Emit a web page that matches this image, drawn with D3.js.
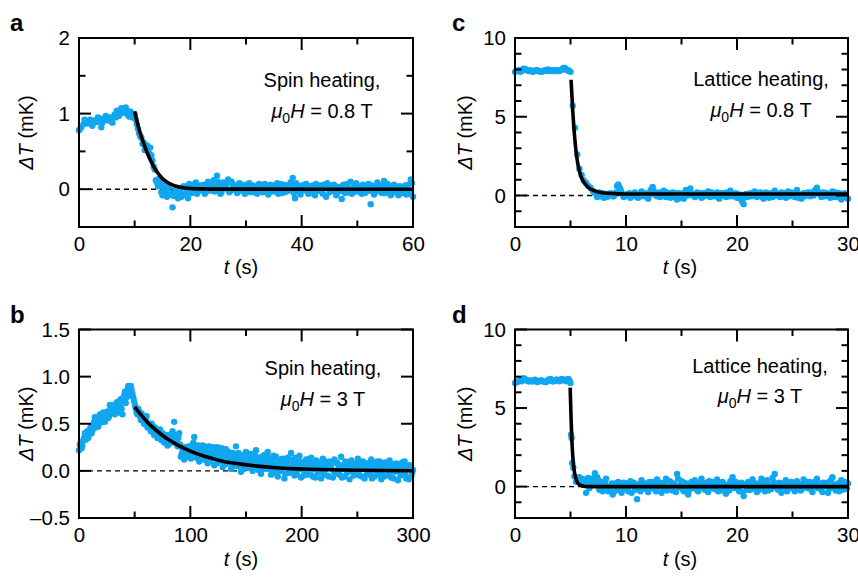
<!DOCTYPE html>
<html><head><meta charset="utf-8">
<script src="https://cdn.jsdelivr.net/npm/d3@7"></script>
<style>
body{margin:0;background:#fff}
svg{display:block}
text{font-family:"Liberation Sans",Arial,Helvetica,sans-serif;fill:#000}
</style>
</head><body>
<svg id="chart" width="858" height="577"></svg>
<script>
// ---------------- DATA ----------------
// Panel a: spin heating, 0.8 T  [t (s), dT (mK)]
const aData = [[0,0.78],[0.2,0.8],[0.4,0.82],[0.8,0.86],[1,0.92],[1.2,0.9],[1.6,0.87],[1.8,0.9],[2,0.92],[2.4,0.84],[2.6,0.88],[2.8,0.91],[3.2,0.89],[3.4,0.95],[3.6,0.94],[4,0.82],[4.2,0.88],[4.4,0.93],[4.8,0.97],[5,0.93],[5.2,0.91],[5.6,0.95],[5.8,0.9],[6,0.88],[6.4,0.99],[6.6,0.95],[6.8,1.04],[7.2,0.97],[7.4,1.0],[7.6,1.07],[8,1.01],[8.2,1.05],[8.4,1.08],[8.8,0.98],[9,0.96],[9.2,1.03],[9.6,0.95],[9.8,1.0],[10,0.99],[10.4,0.86],[10.8,0.74],[11.2,0.68],[11.6,0.62],[12,0.57],[12.4,0.5],[12.8,0.55],[13.2,0.38],[13.6,0.26],[14,0.09],[14.4,0.14],[14.8,-0.04],[15.2,0.05],[15.6,-0.06],[16,0.02],[16.4,-0.07],[16.8,-0.24],[17.2,-0.03],[17.6,-0.08],[18,0.01],[18.4,-0.1],[18.8,0.04],[19.2,-0.05],[19.6,-0.12],[20,0.05],[20.4,-0.02],[20.8,0.07],[21.2,-0.06],[21.6,0.03],[22,-0.01],[22.4,0.06],[22.8,-0.04],[23.2,0.1],[23.6,0.02],[24,0.08],[24.4,-0.03],[24.8,0.18],[25.2,0.05],[25.6,-0.04],[26,0.09],[26.4,0.01],[26.8,0.13],[27.2,-0.02],[27.6,0.06],[28,0.03],[28.4,-0.05],[28.8,0.08],[29.2,0.02],[29.6,-0.03],[30,0.06],[30.4,0],[30.8,-0.04],[31.2,0.05],[31.6,0.02],[32,-0.06],[32.4,0.07],[32.8,0.01],[33.2,-0.02],[33.6,0.04],[34,-0.07],[34.4,0.06],[34.8,0.03],[35.2,-0.03],[35.6,0.08],[36,0],[36.4,-0.05],[36.8,0.06],[37.2,0.02],[37.6,-0.02],[38,0.09],[38.4,0.15],[38.8,-0.12],[39.2,0.03],[39.6,-0.04],[40,0.05],[40.4,-0.01],[40.8,0.07],[41.2,-0.06],[41.6,0.02],[42,0.05],[42.4,-0.08],[42.8,0.04],[43.2,0],[43.6,-0.03],[44,0.06],[44.4,-0.1],[44.8,0.03],[45.2,0.05],[45.6,-0.02],[46,0.04],[46.4,-0.05],[46.8,0.01],[47.2,-0.13],[47.6,0.06],[48,0.02],[48.4,-0.04],[48.8,0.1],[49.2,0],[49.6,-0.03],[50,0.05],[50.4,0.03],[50.8,-0.06],[51.2,0.04],[51.6,-0.02],[52,0.07],[52.4,-0.2],[52.8,0.02],[53.2,-0.04],[53.6,0.09],[54,0.01],[54.4,-0.05],[54.8,0.11],[55.2,-0.02],[55.6,0.03],[56,-0.08],[56.4,0.05],[56.8,0],[57.2,-0.06],[57.6,0.04],[58,-0.03],[58.4,0.02],[58.8,-0.07],[59.2,0.06],[59.6,0.13],[60,-0.1]];
const aData2 = [[10.2,0.92],[10.6,0.8],[11,0.7],[11.4,0.6],[11.8,0.52],[12.2,0.58],[12.6,0.47],[13,0.45],[13.4,0.3],[13.8,0.12],[14.2,0.04],[14.6,0.08],[15,-0.08],[15.4,0],[15.8,-0.1],[16.2,0.04],[16.6,-0.05],[17,-0.09],[17.4,0.02],[17.8,-0.12],[18.2,-0.04],[18.6,-0.08],[19,0.03],[19.4,-0.02],[19.8,0.07],[20.2,-0.05],[20.6,0.02],[21,0.09],[21.4,-0.03],[21.8,0.05],[22.2,0],[22.6,-0.06],[23,0.04],[23.4,0.07],[23.8,-0.02],[24.2,0.12],[24.6,0.03],[25,0.1],[25.4,-0.06],[25.8,0.05],[26.2,0.02],[26.6,0.08],[27,-0.04],[27.4,0.1],[27.8,0],[28.2,0.05],[28.6,-0.03],[29,0.07],[29.4,0.02],[29.8,-0.06],[30.2,0.04],[30.6,0.08],[31,-0.02],[31.4,0.03],[31.8,-0.05],[32.2,0.06],[32.6,0.02],[33,-0.04],[33.4,0.07],[33.8,0],[34.2,0.04],[34.6,-0.03],[35,0.05],[35.4,0.01],[35.8,-0.06],[36.2,0.07],[36.6,0.03],[37,-0.04],[37.4,0.05],[37.8,0],[38.2,0.06],[38.6,-0.05],[39,0.08],[39.4,0.01],[39.8,-0.07],[40.2,0.03],[40.6,0.06],[41,-0.03],[41.4,0.04],[41.8,-0.05],[42.2,0.01],[42.6,0.07],[43,-0.02],[43.4,0.05],[43.8,-0.06],[44.2,0.02],[44.6,0.08],[45,-0.04],[45.4,0],[45.8,0.06],[46.2,-0.08],[46.6,0.03],[47,-0.02],[47.4,0.05],[47.8,-0.05],[48.2,0.07],[48.6,0],[49,-0.06],[49.4,0.04],[49.8,0.08],[50.2,-0.03],[50.6,0.01],[51,0.06],[51.4,-0.05],[51.8,0.03],[52.2,-0.02],[52.6,0.05],[53,-0.07],[53.4,0.02],[53.8,0.06],[54.2,-0.03],[54.6,0.04],[55,-0.05],[55.4,0.07],[55.8,0],[56.2,-0.04],[56.6,0.06],[57,0.02],[57.4,-0.08],[57.8,0.03],[58.2,-0.05],[58.6,0.05],[59,-0.02],[59.4,-0.06],[59.8,0.08]];
const aFit = [[10,1.03],[10.5,0.87],[11,0.74],[11.5,0.63],[12,0.53],[12.5,0.44],[13,0.36],[13.5,0.29],[14,0.23],[15,0.14],[16,0.085],[17,0.05],[18,0.03],[19,0.017],[20,0.01],[22,0.004],[25,0.001],[60,0]];

// Panel b: spin heating, 3 T
const bData = [[0,0.22],[1.5,0.3],[3,0.27],[4.5,0.35],[6,0.33],[7.5,0.42],[9,0.38],[10.5,0.47],[12,0.43],[13.5,0.52],[15,0.46],[16.5,0.55],[18,0.5],[19.5,0.58],[21,0.52],[22.5,0.6],[24,0.55],[25.5,0.63],[27,0.58],[28.5,0.68],[30,0.62],[31.5,0.7],[33,0.65],[34.5,0.73],[36,0.62],[37.5,0.76],[39,0.6],[40.5,0.8],[42,0.72],[43.5,0.86],[45,0.8],[46.5,0.9],[48,0.82],[49.5,0.74],[51,0.66],[52.5,0.6],[54,0.63],[55.5,0.54],[57,0.58],[58.5,0.5],[60,0.55],[61.5,0.46],[63,0.5],[64.5,0.42],[66,0.47],[67.5,0.38],[69,0.44],[70.5,0.35],[72,0.41],[73.5,0.33],[75,0.4],[76.5,0.3],[78,0.36],[79.5,0.27],[81,0.38],[82.5,0.3],[84,0.42],[85.5,0.52],[87,0.34],[88.5,0.26],[90,0.4],[91.5,0.15],[93,0.22],[94.5,0.12],[96,0.25],[97.5,0.16],[99,0.2],[100.5,0.13],[102,0.28],[103.5,0.36],[105,0.18],[106.5,0.24],[108,0.1],[109.5,0.2],[111,0.27],[112.5,0.12],[114,0.21],[115.5,0.08],[117,0.26],[118.5,0.15],[120,0.22],[121.5,0.06],[123,0.18],[124.5,0.25],[126,0.1],[127.5,0.2],[129,0.04],[130.5,0.16],[132,0.23],[133.5,0.08],[135,0.14],[136.5,0.02],[138,0.19],[139.5,0.1],[141,0.26],[142.5,0.05],[144,0.13],[145.5,-0.01],[147,0.17],[148.5,0.08],[150,0.2],[151.5,0.03],[153,0.12],[154.5,0.18],[156,0],[157.5,0.1],[159,0.22],[160.5,0.05],[162,0.14],[163.5,-0.03],[165,0.09],[166.5,0.17],[168,0.02],[169.5,0.2],[171,0.07],[172.5,-0.04],[174,0.12],[175.5,0.04],[177,0.15],[178.5,-0.06],[180,0.08],[181.5,0.01],[183,0.13],[184.5,-0.08],[186,0.06],[187.5,0.14],[189,-0.02],[190.5,0.19],[192,0.05],[193.5,-0.05],[195,0.1],[196.5,0.02],[198,0.16],[199.5,-0.07],[201,0.07],[202.5,0],[204,0.12],[205.5,-0.04],[207,0.09],[208.5,0.14],[210,-0.06],[211.5,0.04],[213,0.11],[214.5,-0.02],[216,0.06],[217.5,-0.08],[219,0.13],[220.5,0.01],[222,0.08],[223.5,-0.05],[225,0.1],[226.5,0.03],[228,-0.07],[229.5,0.12],[231,0],[232.5,0.07],[234,-0.04],[235.5,0.15],[237,0.02],[238.5,-0.06],[240,0.09],[241.5,0.04],[243,-0.09],[244.5,0.11],[246,0],[247.5,0.06],[249,-0.03],[250.5,0.13],[252,-0.05],[253.5,0.05],[255,0.1],[256.5,-0.08],[258,0.03],[259.5,0.08],[261,-0.04],[262.5,0.12],[264,0.01],[265.5,-0.06],[267,0.07],[268.5,-0.02],[270,0.1],[271.5,-0.09],[273,0.04],[274.5,0.09],[276,-0.05],[277.5,0.02],[279,0.11],[280.5,-0.07],[282,0.05],[283.5,-0.01],[285,0.08],[286.5,-0.1],[288,0.03],[289.5,0.07],[291,-0.04],[292.5,0.1],[294,-0.08],[295.5,0.02],[297,0.06],[298.5,-0.06],[300,0.01]];
const bData2 = [[0.75,0.28],[2.25,0.24],[3.75,0.32],[5.25,0.4],[6.75,0.37],[8.25,0.35],[9.75,0.44],[11.25,0.4],[12.75,0.48],[14.25,0.57],[15.75,0.5],[17.25,0.47],[18.75,0.6],[20.25,0.55],[21.75,0.62],[23.25,0.52],[24.75,0.6],[26.25,0.56],[27.75,0.7],[29.25,0.64],[30.75,0.66],[32.25,0.6],[33.75,0.72],[35.25,0.68],[36.75,0.7],[38.25,0.66],[39.75,0.75],[41.25,0.84],[42.75,0.78],[44.25,0.9],[45.75,0.85],[47.25,0.86],[48.75,0.78],[50.25,0.7],[51.75,0.62],[53.25,0.66],[54.75,0.58],[56.25,0.61],[57.75,0.53],[59.25,0.5],[60.75,0.58],[62.25,0.48],[63.75,0.45],[65.25,0.5],[66.75,0.41],[68.25,0.46],[69.75,0.39],[71.25,0.36],[72.75,0.44],[74.25,0.35],[75.75,0.33],[77.25,0.38],[78.75,0.32],[80.25,0.28],[81.75,0.34],[83.25,0.36],[84.75,0.3],[86.25,0.38],[87.75,0.3],[89.25,0.35],[90.75,0.28],[92.25,0.18],[93.75,0.25],[95.25,0.14],[96.75,0.2],[98.25,0.26],[99.75,0.17],[101.25,0.22],[102.75,0.3],[104.25,0.25],[105.75,0.14],[107.25,0.27],[108.75,0.16],[110.25,0.23],[111.75,0.18],[113.25,0.26],[114.75,0.13],[116.25,0.19],[117.75,0.1],[119.25,0.18],[120.75,0.25],[122.25,0.14],[123.75,0.08],[125.25,0.2],[126.75,0.15],[128.25,0.24],[129.75,0.12],[131.25,0.07],[132.75,0.18],[134.25,0.2],[135.75,0.1],[137.25,0.15],[138.75,0.05],[140.25,0.17],[141.75,0.12],[143.25,0.19],[144.75,0.06],[146.25,0.1],[147.75,0.02],[149.25,0.14],[150.75,0.1],[152.25,0.18],[153.75,0.06],[155.25,0.13],[156.75,0.05],[158.25,0.16],[159.75,0.1],[161.25,0.01],[162.75,0.08],[164.25,0.15],[165.75,0.03],[167.25,0.12],[168.75,0.08],[170.25,0.14],[171.75,0.02],[173.25,0.09],[174.75,0.16],[176.25,-0.02],[177.75,0.07],[179.25,0.12],[180.75,0],[182.25,0.06],[183.75,0.1],[185.25,-0.03],[186.75,0.09],[188.25,0.03],[189.75,0.12],[191.25,0],[192.75,0.08],[194.25,0.14],[195.75,-0.04],[197.25,0.06],[198.75,0.1],[200.25,0.02],[201.75,-0.05],[203.25,0.08],[204.75,0.04],[206.25,0.12],[207.75,-0.02],[209.25,0.07],[210.75,0.02],[212.25,-0.07],[213.75,0.05],[215.25,0.09],[216.75,0],[218.25,0.06],[219.75,-0.04],[221.25,0.1],[222.75,0.03],[224.25,-0.06],[225.75,0.05],[227.25,0.08],[228.75,0],[230.25,-0.03],[231.75,0.09],[233.25,0.02],[234.75,0.06],[236.25,-0.07],[237.75,0.04],[239.25,0.1],[240.75,-0.02],[242.25,0.05],[243.75,0],[245.25,0.07],[246.75,-0.05],[248.25,0.03],[249.75,0.09],[251.25,0],[252.75,0.06],[254.25,-0.06],[255.75,0.04],[257.25,0.08],[258.75,-0.03],[260.25,0.05],[261.75,0.01],[263.25,-0.08],[264.75,0.07],[266.25,0.02],[267.75,0.1],[269.25,-0.04],[270.75,0.04],[272.25,0],[273.75,-0.06],[275.25,0.06],[276.75,0.09],[278.25,-0.03],[279.75,0.01],[281.25,0.07],[282.75,-0.08],[284.25,0.04],[285.75,0],[287.25,0.06],[288.75,-0.05],[290.25,0.09],[291.75,0.02],[293.25,-0.04],[294.75,0.05],[296.25,-0.09],[297.75,0.03],[299.25,-0.02]];
const bFit = [[50,0.68],[55,0.605],[60,0.535],[65,0.475],[70,0.425],[75,0.375],[80,0.335],[90,0.265],[100,0.21],[110,0.165],[120,0.13],[130,0.1],[140,0.08],[160,0.05],[180,0.03],[200,0.02],[225,0.012],[250,0.007],[275,0.004],[300,0.002]];

// Panel c: lattice heating, 0.8 T
const cData = [[0,7.85],[0.2,7.9],[0.4,7.95],[0.6,7.9],[0.8,8.05],[1,8.0],[1.2,7.9],[1.4,7.95],[1.6,7.85],[1.8,7.9],[2,7.95],[2.2,7.9],[2.4,7.85],[2.6,7.9],[2.8,7.95],[3,8.0],[3.2,7.9],[3.4,7.95],[3.6,7.9],[3.8,7.95],[4,7.9],[4.2,8.0],[4.4,8.1],[4.6,8.0],[4.8,7.95],[5,7.85],[5.2,5.7],[5.4,4.3],[5.6,2.6],[5.8,1.7],[6,1.3],[6.2,0.95],[6.4,0.8],[6.6,0.6],[6.8,0.5],[7,0.3],[7.2,0.15],[7.4,-0.1],[7.6,0.2],[7.8,0.05],[8,-0.15],[8.2,0.1],[8.4,0],[8.6,0.15],[8.8,-0.05],[9,0.1],[9.2,0.6],[9.4,0.55],[9.6,0.2],[9.8,-0.1],[10,0.05],[10.2,0.1],[10.4,-0.15],[10.6,0],[10.8,0.2],[11,-0.1],[11.2,0.05],[11.4,0.25],[11.6,-0.05],[11.8,0.1],[12,-0.2],[12.2,0.3],[12.4,0.55],[12.6,0.15],[12.8,-0.05],[13,0.2],[13.2,0.05],[13.4,0.3],[13.6,-0.1],[13.8,0.1],[14,-0.15],[14.2,0.2],[14.4,0.05],[14.6,-0.25],[14.8,0.15],[15,0],[15.2,-0.2],[15.4,0.35],[15.6,0.1],[15.8,0.45],[16,0],[16.2,-0.1],[16.4,0.2],[16.6,0.05],[16.8,-0.15],[17,0.15],[17.2,0],[17.4,0.25],[17.6,-0.1],[17.8,0.1],[18,-0.05],[18.2,0.2],[18.4,-0.2],[18.6,0.05],[18.8,0.15],[19,-0.1],[19.2,0.1],[19.4,0.3],[19.6,-0.05],[19.8,0.1],[20,-0.15],[20.2,0.05],[20.4,-0.3],[20.6,-0.55],[20.8,0.1],[21,-0.05],[21.2,0.15],[21.4,0],[21.6,0.25],[21.8,-0.1],[22,0.1],[22.2,0.05],[22.4,-0.2],[22.6,0.2],[22.8,0],[23,0.15],[23.2,-0.1],[23.4,0.3],[23.6,0.05],[23.8,-0.05],[24,0.2],[24.2,0.1],[24.4,-0.15],[24.6,0.25],[24.8,0],[25,0.1],[25.2,-0.1],[25.4,0.35],[25.6,0.05],[25.8,-0.2],[26,0.15],[26.2,0],[26.4,0.2],[26.6,-0.05],[26.8,0.1],[27,0.3],[27.2,0.5],[27.4,0.15],[27.6,-0.1],[27.8,0.2],[28,0],[28.2,0.1],[28.4,-0.15],[28.6,0.25],[28.8,0.05],[29,-0.1],[29.2,0.15],[29.4,-0.25],[29.6,0.1],[29.8,0],[30,-0.2]];
const cData2 = [[0.1,7.9],[0.3,7.95],[0.5,7.85],[0.7,8.0],[0.9,8.0],[1.1,7.95],[1.3,7.9],[1.5,7.9],[1.7,7.9],[1.9,7.95],[2.1,7.9],[2.3,7.85],[2.5,7.9],[2.7,7.95],[2.9,7.9],[3.1,7.95],[3.3,7.9],[3.5,7.9],[3.7,7.95],[3.9,7.9],[4.1,7.95],[4.3,8.05],[4.5,8.1],[4.7,7.95],[4.9,7.9],[7.5,0.1],[7.7,-0.05],[7.9,0.15],[8.1,0],[8.3,-0.1],[8.5,0.05],[8.7,0.1],[8.9,-0.05],[9.1,0.2],[9.3,0.7],[9.5,0.4],[9.7,0.05],[9.9,0],[10.1,0],[10.3,0.15],[10.5,-0.05],[10.7,0.1],[10.9,0.05],[11.1,-0.15],[11.3,0.1],[11.5,0],[11.7,0.15],[11.9,-0.05],[12.1,0.05],[12.3,0.4],[12.5,0.3],[12.7,0],[12.9,0.1],[13.1,-0.1],[13.3,0.15],[13.5,0.05],[13.7,0.2],[13.9,-0.05],[14.1,0.05],[14.3,-0.1],[14.5,0.15],[14.7,0],[14.9,-0.15],[15.1,0.1],[15.3,0.2],[15.5,0],[15.7,0.3],[15.9,0.1],[16.1,0.05],[16.3,-0.05],[16.5,0.1],[16.7,0.15],[16.9,-0.1],[17.1,0.05],[17.3,0.1],[17.5,-0.05],[17.7,0.2],[17.9,0],[18.1,0.1],[18.3,-0.1],[18.5,0.15],[18.7,0],[18.9,0.05],[19.1,0.2],[19.3,-0.05],[19.5,0.1],[19.7,0],[19.9,0.15],[20.1,-0.1],[20.3,0.05],[20.5,-0.4],[20.7,0],[20.9,-0.1],[21.1,0.1],[21.3,-0.05],[21.5,0.15],[21.7,0.05],[21.9,0],[22.1,0.2],[22.3,-0.1],[22.5,0.05],[22.7,0.1],[22.9,-0.15],[23.1,0.05],[23.3,0.15],[23.5,0],[23.7,0.1],[23.9,-0.1],[24.1,0.05],[24.3,0.15],[24.5,0],[24.7,-0.05],[24.9,0.2],[25.1,0.05],[25.3,0.1],[25.5,-0.15],[25.7,0],[25.9,0.1],[26.1,-0.05],[26.3,0.15],[26.5,0.05],[26.7,0.2],[26.9,0],[27.1,0.35],[27.3,0.25],[27.5,0.05],[27.7,0.1],[27.9,-0.05],[28.1,0.15],[28.3,0],[28.5,0.1],[28.7,-0.1],[28.9,0.2],[29.1,0],[29.3,0.05],[29.5,-0.1],[29.7,0.15],[29.9,-0.15]];
const cFit = [[5.05,7.35],[5.2,5.4],[5.35,3.9],[5.5,2.8],[5.65,2.05],[5.8,1.55],[6,1.1],[6.2,0.85],[6.5,0.58],[7,0.34],[7.5,0.22],[8,0.16],[9,0.12],[10,0.1],[30,0.1]];

// Panel d: lattice heating, 3 T
const dData = [[0,6.6],[0.2,6.65],[0.4,6.75],[0.6,6.7],[0.8,6.9],[1,6.8],[1.2,6.7],[1.4,6.75],[1.6,6.7],[1.8,6.8],[2,6.65],[2.2,6.7],[2.4,6.75],[2.6,6.7],[2.8,6.65],[3,6.8],[3.2,6.85],[3.4,6.7],[3.6,6.75],[3.8,6.8],[4,6.7],[4.2,6.85],[4.4,6.8],[4.6,6.7],[4.8,6.85],[5,6.6],[5.05,3.3],[5.1,3.1],[5.15,1.5],[5.25,1.2],[5.35,0.65],[5.5,0.3],[5.8,0.6],[6,0.5],[6.2,0.3],[6.4,-0.4],[6.6,0.55],[6.8,0.2],[7,0.4],[7.2,0.85],[7.4,0.6],[7.6,-0.2],[7.8,0.3],[8,0.1],[8.2,0.5],[8.4,-0.3],[8.6,0],[8.8,-0.5],[9,0.2],[9.2,-0.2],[9.4,0.1],[9.6,-0.4],[9.8,0.25],[10,0],[10.2,-0.3],[10.4,0.35],[10.6,0.1],[10.8,-0.2],[11,-0.8],[11.2,0.15],[11.4,0.4],[11.6,-0.1],[11.8,0.2],[12,-0.35],[12.2,0.05],[12.4,0.3],[12.6,-0.15],[12.8,0.45],[13,0],[13.2,-0.4],[13.4,0.2],[13.6,0.5],[13.8,-0.1],[14,0.3],[14.2,-0.25],[14.4,0.1],[14.6,0.8],[14.8,-0.05],[15,0.35],[15.2,-0.3],[15.4,0.15],[15.6,-0.5],[15.8,0.2],[16,0],[16.2,0.4],[16.4,-0.2],[16.6,0.1],[16.8,0.5],[17,-0.1],[17.2,0.25],[17.4,-0.35],[17.6,0.05],[17.8,0.3],[18,-0.15],[18.2,0.45],[18.4,0],[18.6,-0.25],[18.8,0.2],[19,-0.45],[19.2,0.1],[19.4,0.35],[19.6,0.6],[19.8,-0.1],[20,0.15],[20.2,-0.3],[20.4,0.25],[20.6,-0.6],[20.8,0.05],[21,0.3],[21.2,-0.2],[21.4,0.45],[21.6,0],[21.8,-0.35],[22,0.2],[22.2,0.5],[22.4,-0.1],[22.6,0.3],[22.8,-0.25],[23,0.1],[23.2,0.55],[23.4,0.8],[23.6,-0.05],[23.8,0.25],[24,-0.4],[24.2,0.15],[24.4,0.4],[24.6,-0.15],[24.8,0.2],[25,0],[25.2,-0.3],[25.4,0.35],[25.6,0.1],[25.8,-0.2],[26,0.45],[26.2,0.05],[26.4,-0.1],[26.6,0.3],[26.8,-0.35],[27,0.2],[27.2,0.5],[27.4,0],[27.6,-0.2],[27.8,0.25],[28,0.1],[28.2,-0.4],[28.4,0.35],[28.6,0.6],[28.8,-0.1],[29,0.15],[29.2,-0.3],[29.4,0.4],[29.6,0.05],[29.8,-0.15],[30,0.2]];
const dData2 = [[0.1,6.65],[0.3,6.7],[0.5,6.8],[0.7,6.85],[0.9,6.8],[1.1,6.75],[1.3,6.7],[1.5,6.7],[1.7,6.75],[1.9,6.7],[2.1,6.7],[2.3,6.75],[2.5,6.7],[2.7,6.65],[2.9,6.7],[3.1,6.8],[3.3,6.75],[3.5,6.7],[3.7,6.8],[3.9,6.75],[4.1,6.75],[4.3,6.8],[4.5,6.75],[4.7,6.8],[4.9,6.75],[6.1,0.2],[6.3,0.45],[6.5,0.1],[6.7,-0.1],[6.9,0.3],[7.1,0.55],[7.3,0.2],[7.5,0.4],[7.7,0.05],[7.9,-0.3],[8.1,0.25],[8.3,0],[8.5,-0.15],[8.7,0.2],[8.9,-0.35],[9.1,0],[9.3,0.3],[9.5,-0.25],[9.7,0.05],[9.9,-0.15],[10.1,0.2],[10.3,0.05],[10.5,-0.4],[10.7,0.25],[10.9,-0.1],[11.1,0.1],[11.3,-0.3],[11.5,0.2],[11.7,0],[11.9,-0.2],[12.1,0.3],[12.3,-0.1],[12.5,0.15],[12.7,-0.3],[12.9,0.1],[13.1,0.25],[13.3,-0.15],[13.5,0.05],[13.7,-0.25],[13.9,0.35],[14.1,0],[14.3,0.2],[14.5,-0.35],[14.7,0.5],[14.9,0.1],[15.1,-0.15],[15.3,0.25],[15.5,0],[15.7,-0.2],[15.9,0.3],[16.1,-0.1],[16.3,0.15],[16.5,-0.3],[16.7,0.25],[16.9,0.05],[17.1,-0.2],[17.3,0.1],[17.5,0.35],[17.7,-0.1],[17.9,0],[18.1,0.2],[18.3,-0.3],[18.5,0.1],[18.7,0.3],[18.9,-0.15],[19.1,0.05],[19.3,-0.25],[19.5,0.2],[19.7,0],[19.9,0.3],[20.1,-0.1],[20.3,0.1],[20.5,-0.35],[20.7,0.15],[20.9,-0.2],[21.1,0.05],[21.3,0.3],[21.5,-0.1],[21.7,0.2],[21.9,-0.25],[22.1,0],[22.3,0.15],[22.5,-0.3],[22.7,0.4],[22.9,0.05],[23.1,-0.15],[23.3,0.3],[23.5,0.1],[23.7,-0.2],[23.9,0.2],[24.1,-0.05],[24.3,0.25],[24.5,-0.3],[24.7,0.1],[24.9,0.3],[25.1,-0.1],[25.3,0.05],[25.5,0.2],[25.7,-0.25],[25.9,0.15],[26.1,-0.05],[26.3,0.3],[26.5,0],[26.7,-0.2],[26.9,0.1],[27.1,0.35],[27.3,-0.1],[27.5,0.2],[27.7,-0.35],[27.9,0.05],[28.1,0.25],[28.3,-0.15],[28.5,0.45],[28.7,0.1],[28.9,-0.25],[29.1,0.2],[29.3,0],[29.5,-0.2],[29.7,0.3],[29.9,-0.1]];
const dFit = [[4.97,6.3],[5.05,4.4],[5.12,3.0],[5.2,2.0],[5.27,1.4],[5.35,0.95],[5.45,0.6],[5.6,0.3],[5.8,0.12],[6,0.05],[6.3,0.01],[7,0],[30,0]];

// Axis ticks and labels
const aXMajor = [0,20,40,60], aXMinor = [10,30,50], aXLabels = ["0","20","40","60"];
const aYMajor = [0,1,2], aYMinor = [-0.5,0.5,1.5], aYLabels = ["0","1","2"];
const bXMajor = [0,100,200,300], bXMinor = [50,150,250], bXLabels = ["0","100","200","300"];
const bYMajor = [-0.5,0,0.5,1,1.5], bYMinor = [], bYLabels = ["\u20130.5","0.0","0.5","1.0","1.5"];
const cdXMajor = [0,10,20,30], cdXMinor = [5,15,25], cdXLabels = ["0","10","20","30"];
const cdYMajor = [0,5,10], cdYMinor = [-2,-1,1,2,3,4,6,7,8,9], cdYLabels = ["0","5","10"];

const panelLetters = ["a","b","c","d"];
const heatingText = ["Spin heating,","Spin heating,","Lattice heating,","Lattice heating,"];
const fieldText = ["0.8","3","0.8","3"];
const xTitle = "t", xUnit = " (s)";
const yTitle = "\u0394T", yUnit = " (mK)";

// ---------------- LAYOUT ----------------
const BLUE = "#10a6f0";
const layout = [
  {box:{l:79,r:413,t:38,b:227},    ann:{cx:322,y1:87,y2:118},  letter:{x:10,y:31},  xt:{cx:241,y:274}, yt:{x:33}},
  {box:{l:79,r:413,t:329.5,b:518}, ann:{cx:323,y1:375,y2:406}, letter:{x:10,y:323}, xt:{cx:241,y:566}, yt:{x:33}},
  {box:{l:515,r:848,t:38,b:227},   ann:{cx:761,y1:86,y2:117},  letter:{x:452,y:31}, xt:{cx:680,y:274}, yt:{x:472}},
  {box:{l:515,r:848,t:329.5,b:518},ann:{cx:760,y1:373,y2:403}, letter:{x:452,y:323},xt:{cx:680,y:566}, yt:{x:472}}
];
const panels = [
  {data:aData.concat(aData2), fit:aFit, xDom:[0,60], yDom:[-0.5,2], xMajor:aXMajor, xMinor:aXMinor, xLabels:aXLabels, yMajor:aYMajor, yMinor:aYMinor, yLabels:aYLabels},
  {data:bData.concat(bData2), fit:bFit, xDom:[0,300], yDom:[-0.5,1.5], xMajor:bXMajor, xMinor:bXMinor, xLabels:bXLabels, yMajor:bYMajor, yMinor:bYMinor, yLabels:bYLabels},
  {data:cData.concat(cData2), fit:cFit, xDom:[0,30], yDom:[-2,10], xMajor:cdXMajor, xMinor:cdXMinor, xLabels:cdXLabels, yMajor:cdYMajor, yMinor:cdYMinor, yLabels:cdYLabels},
  {data:dData.concat(dData2), fit:dFit, xDom:[0,30], yDom:[-2,10], xMajor:cdXMajor, xMinor:cdXMinor, xLabels:cdXLabels, yMajor:cdYMajor, yMinor:cdYMinor, yLabels:cdYLabels}
];

const svg = d3.select("#chart");
const FONT = '"Liberation Sans",Arial,Helvetica,sans-serif';
const MAJ = 12, MIN = 6.5, TICKW = 2;

function labelAxis(sel){
  sel.select(".domain").remove();
  sel.selectAll(".tick line").remove();
  sel.attr("font-family", FONT).attr("font-size", 20.5);
  sel.selectAll(".tick text").attr("fill","#000");
}

// inward ticks on all four sides, positioned through the scales
function drawTicks(g, x, y, w, h, xv, yv, len){
  const tg = g.append("g").attr("stroke","#000").attr("stroke-width",TICKW).attr("fill","none");
  tg.selectAll(null).data(yv).join("line")
    .attr("x1",0).attr("x2",len).attr("y1",d=>y(d)).attr("y2",d=>y(d));
  tg.selectAll(null).data(yv).join("line")
    .attr("x1",w-len).attr("x2",w).attr("y1",d=>y(d)).attr("y2",d=>y(d));
  tg.selectAll(null).data(xv).join("line")
    .attr("x1",d=>x(d)).attr("x2",d=>x(d)).attr("y1",h).attr("y2",h-len);
  tg.selectAll(null).data(xv).join("line")
    .attr("x1",d=>x(d)).attr("x2",d=>x(d)).attr("y1",0).attr("y2",len);
}

panels.forEach((p, i) => {
  const L = layout[i];
  const w = L.box.r - L.box.l, h = L.box.b - L.box.t;
  const x = d3.scaleLinear().domain(p.xDom).range([0, w]);
  const y = d3.scaleLinear().domain(p.yDom).range([h, 0]);
  const g = svg.append("g").attr("transform", `translate(${L.box.l},${L.box.t})`);

  // zero line
  g.append("line").attr("x1",0).attr("x2",w).attr("y1",y(0)).attr("y2",y(0))
    .attr("stroke","#000").attr("stroke-width",1.4).attr("stroke-dasharray","5,4");

  // data points
  g.append("g").selectAll("circle").data(p.data).join("circle")
    .attr("cx", d => x(d[0])).attr("cy", d => y(d[1])).attr("r", 3.2).attr("fill", BLUE);

  // fit
  g.append("path").datum(p.fit)
    .attr("d", d3.line().x(d => x(d[0])).y(d => y(d[1])).curve(d3.curveMonotoneX))
    .attr("fill","none").attr("stroke","#000").attr("stroke-width",3.6);

  // tick labels via d3 axes
  g.append("g").call(d3.axisLeft(y).tickValues(p.yMajor).tickSize(0).tickPadding(9)
      .tickFormat((v, k) => p.yLabels[k])).call(labelAxis);
  g.append("g").attr("transform",`translate(0,${h})`).call(d3.axisBottom(x).tickValues(p.xMajor).tickSize(0).tickPadding(9.5)
      .tickFormat((v, k) => p.xLabels[k])).call(labelAxis);

  // tick marks
  drawTicks(g, x, y, w, h, p.xMajor, p.yMajor, MAJ);
  drawTicks(g, x, y, w, h, p.xMinor, p.yMinor, MIN);

  // frame
  g.append("rect").attr("x",0).attr("y",0).attr("width",w).attr("height",h)
    .attr("fill","none").attr("stroke","#000").attr("stroke-width",2);

  // panel letter
  svg.append("text").attr("x", L.letter.x).attr("y", L.letter.y)
    .attr("font-size", 24).attr("font-weight","bold").text(panelLetters[i]);

  // annotation
  svg.append("text").attr("x", L.ann.cx).attr("y", L.ann.y1).attr("text-anchor","middle")
    .attr("font-size", 20).text(heatingText[i]);
  const t2 = svg.append("text").attr("x", L.ann.cx).attr("y", L.ann.y2).attr("text-anchor","middle").attr("font-size", 20);
  t2.append("tspan").attr("font-style","italic").text("\u03bc");
  t2.append("tspan").attr("font-size", 14).attr("dy", 5).text("0");
  t2.append("tspan").attr("font-style","italic").attr("dy", -5).text("H");
  t2.append("tspan").text(" = " + fieldText[i] + " T");

  // x title
  const xt = svg.append("text").attr("x", L.xt.cx).attr("y", L.xt.y).attr("text-anchor","middle").attr("font-size", 20);
  xt.append("tspan").attr("font-style","italic").text(xTitle);
  xt.append("tspan").text(xUnit);

  // y title
  const cy = (L.box.t + L.box.b) / 2;
  const yt = svg.append("text").attr("transform", `translate(${L.yt.x},${cy}) rotate(-90)`)
    .attr("text-anchor","middle").attr("font-size", 20);
  yt.append("tspan").attr("font-style","italic").text(yTitle);
  yt.append("tspan").text(yUnit);
});
</script>
</body></html>
